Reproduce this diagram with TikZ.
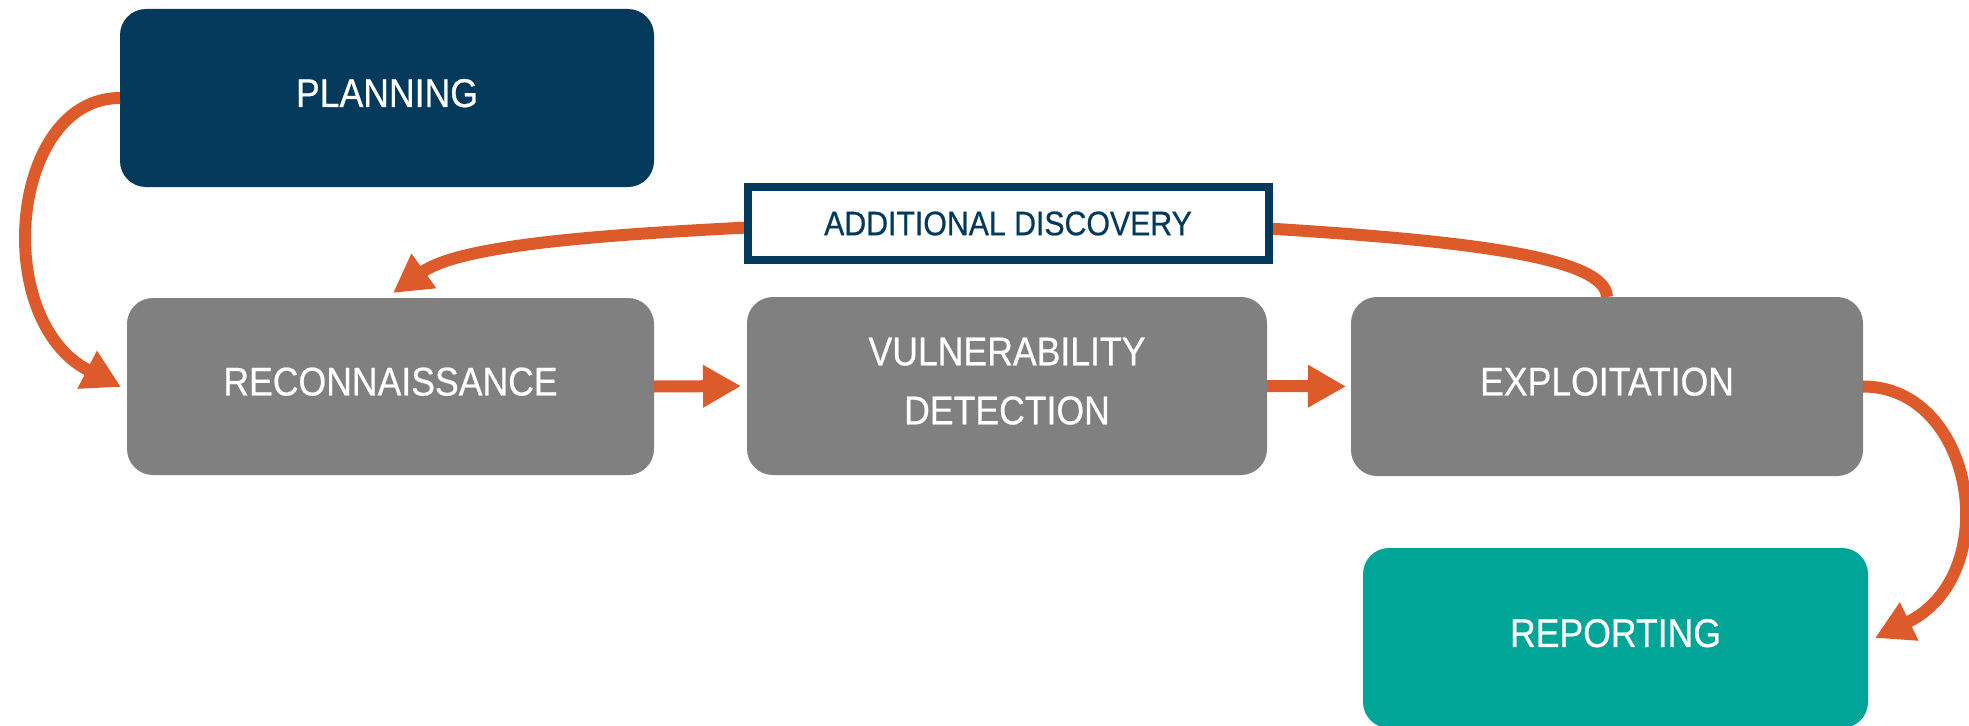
\documentclass[tikz,border=0pt]{standalone}
\usepackage{fontspec}
\setmainfont{Liberation Sans}[FakeStretch=0.89,FakeBold=0.6]
\usetikzlibrary{arrows.meta,calc}
\definecolor{navy}{HTML}{033A5B}
\definecolor{greybox}{HTML}{808080}
\definecolor{tealbox}{HTML}{00A598}
\definecolor{orangearrow}{HTML}{DD5A2B}
\pgfdeclarelayer{background}
\pgfsetlayers{background,main}
\begin{document}
\begin{tikzpicture}[x=1pt,y=-1pt,
  box/.style={rounded corners=26pt, text=white, font=\fontsize{40}{59}\selectfont,
    align=center, text depth=10pt, inner sep=0pt, outer sep=0pt},
  flow/.style={draw=orangearrow, line width=12pt, -{Triangle[length=38pt,width=40pt]}},
  adbox/.style={draw=navy, line width=8pt, fill=white, text=navy,
    font=\fontsize{34}{40}\selectfont, inner sep=0pt, outer sep=0pt}]
\useasboundingbox (0,0) rectangle (1969,725);

\node[box, fill=navy, minimum width=534pt, minimum height=178pt] (plan) at (387,98) {PLANNING};
\node[box, fill=greybox, minimum width=527pt, minimum height=177pt] (recon) at (390.5,386.5) {RECONNAISSANCE};
\node[box, fill=greybox, minimum width=520pt, minimum height=178pt] (vuln) at (1007,386) {VULNERABILITY\\DETECTION};
\node[box, fill=greybox, minimum width=512pt, minimum height=179pt] (expl) at (1607,386.5) {EXPLOITATION};
\node[box, fill=tealbox, minimum width=505pt, minimum height=180pt] (report) at (1615.5,638) {REPORTING};
\node[adbox, minimum width=521pt, minimum height=73pt] (ad) at (1008,223.5) {ADDITIONAL DISCOVERY};

\coordinate (rtip) at (121,387);
\coordinate (reptip) at (1875,638);
\coordinate (adtip) at (393,293);

\draw[flow] (plan.west) .. controls (10,98) and (-10,320) .. (rtip);
\draw[flow, shorten >=6pt] (recon.east) -- (vuln.west);
\draw[flow, shorten >=5pt] (vuln.east) -- (expl.west);
\draw[flow] (expl.east) .. controls (1975,386.5) and (2005,575) .. (reptip);

\begin{pgfonlayer}{background}
\draw[flow] (expl.north) .. controls (1606,255) and (1450,240) .. ($(ad.east)+(0,5)$)
  -- ($(ad.west)+(0,4)$) .. controls (600,235) and (460,245) .. (adtip);
\end{pgfonlayer}
\end{tikzpicture}
\end{document}
